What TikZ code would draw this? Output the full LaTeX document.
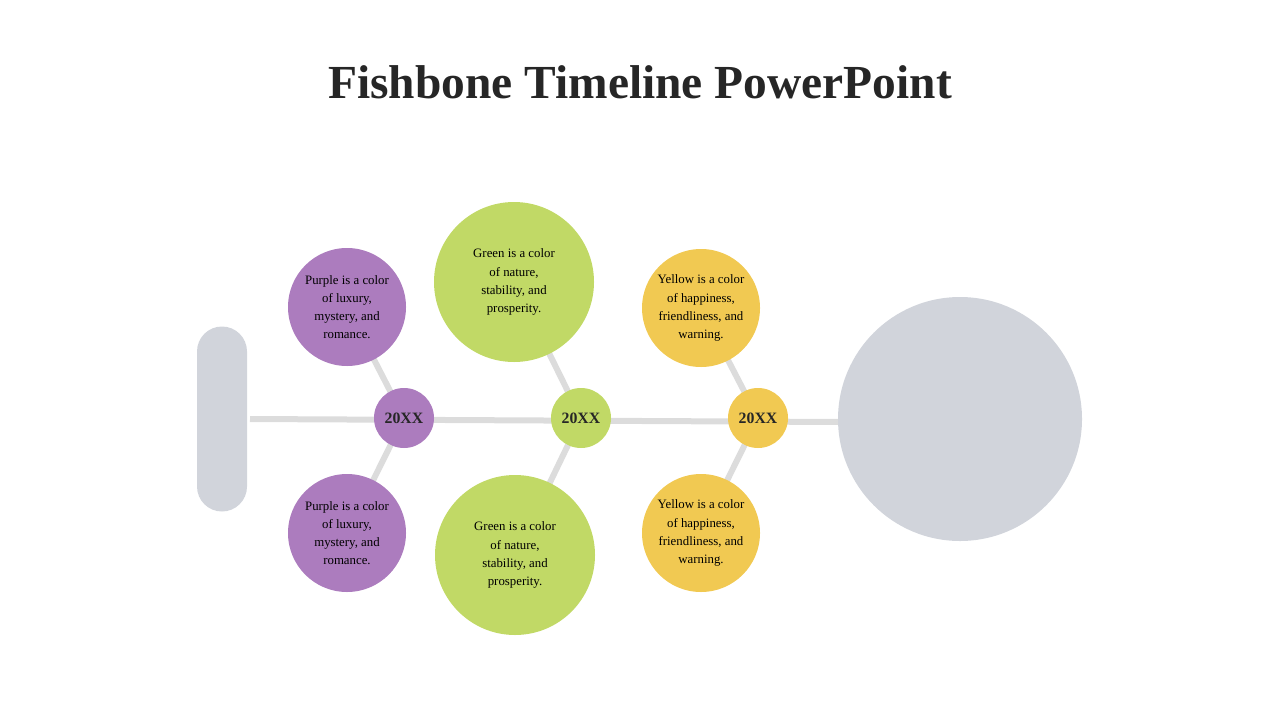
\documentclass[tikz,border=0pt]{standalone}
\usepackage{fontspec}
\setmainfont{Liberation Serif}
\usetikzlibrary{backgrounds}
\definecolor{pur}{RGB}{172,124,190}
\definecolor{grn}{RGB}{193,217,102}
\definecolor{yel}{RGB}{241,201,82}
\definecolor{lgray}{RGB}{209,212,219}
\definecolor{bone}{RGB}{220,220,220}
\definecolor{ttl}{RGB}{38,38,38}
\begin{document}
\begin{tikzpicture}[x=0.02cm,y=-0.02cm,
  dot/.style={circle,inner sep=0pt,minimum size=60*0.02cm,font=\bfseries\fontsize{9}{10}\selectfont,text=ttl},
  bub/.style={circle,inner sep=0pt,align=center,font=\fontsize{7.3}{10.3}\selectfont,text=black},
  bonel/.style={draw=bone,line width=6*0.02cm}]
\useasboundingbox (0,0) rectangle (1280,720);
\node[font=\bfseries\fontsize{27}{30}\selectfont,text=ttl] (title) at (640,82) {Fishbone Timeline PowerPoint};
\node[fill=lgray,rounded corners=25*0.02cm,minimum width=50*0.02cm,minimum height=185*0.02cm,inner sep=0pt] (tail) at (222,419) {};
\node[circle,fill=lgray,minimum size=244*0.02cm,inner sep=0pt] (head) at (960,419) {};
\node[dot,fill=pur] (d1) at (404,418) {20XX};
\node[dot,fill=grn] (d2) at (581,418) {20XX};
\node[dot,fill=yel] (d3) at (758,418) {20XX};
\node[bub,fill=pur,minimum size=118*0.02cm] (p1) at (347,307) {Purple is a color\\of luxury,\\mystery, and\\romance.};
\node[bub,fill=pur,minimum size=118*0.02cm] (p2) at (347,533) {Purple is a color\\of luxury,\\mystery, and\\romance.};
\node[bub,fill=grn,minimum size=160*0.02cm] (g1) at (514,282) {Green is a color\\of nature,\\stability, and\\prosperity.};
\node[bub,fill=grn,minimum size=160*0.02cm] (g2) at (515,555) {Green is a color\\of nature,\\stability, and\\prosperity.};
\node[bub,fill=yel,minimum size=118*0.02cm] (y1) at (701,308) {Yellow is a color\\of happiness,\\friendliness, and\\warning.};
\node[bub,fill=yel,minimum size=118*0.02cm] (y2) at (701,533) {Yellow is a color\\of happiness,\\friendliness, and\\warning.};
\begin{scope}[on background layer]
\coordinate (s0) at (250,419);
\coordinate (s1) at (840,422);
\draw[bonel] (s0) -- (s1);
\draw[bonel] (d1.center) -- (p1.center);
\draw[bonel] (d1.center) -- (p2.center);
\draw[bonel] (d2.center) -- (g1.center);
\draw[bonel] (d2.center) -- (g2.center);
\draw[bonel] (d3.center) -- (y1.center);
\draw[bonel] (d3.center) -- (y2.center);
\end{scope}
\end{tikzpicture}
\end{document}
